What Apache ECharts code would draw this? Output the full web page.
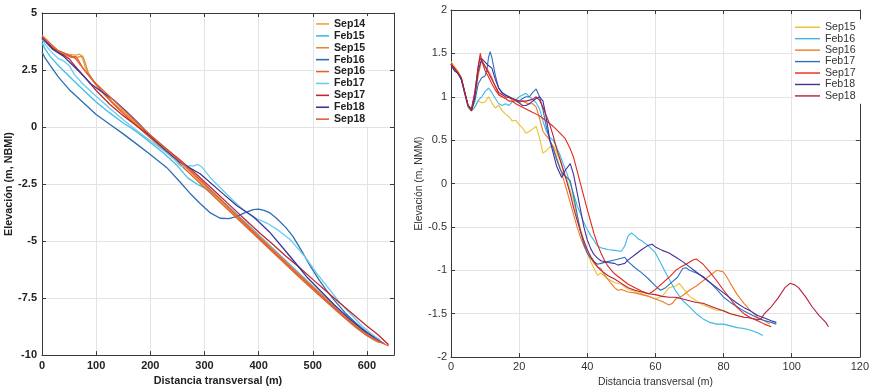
<!DOCTYPE html>
<html><head><meta charset="utf-8">
<script src="https://cdn.jsdelivr.net/npm/echarts@6/dist/echarts.min.js"></script>
<style>html,body{margin:0;padding:0;background:#fff}#c{width:872px;height:392px}</style>
</head><body><div id="c"></div>
<script>
// ---------- Left panel data (distance m, elevation m NBMI) ----------
const leftNames = ['Sep14','Feb15','Sep15','Feb16','Sep16','Feb17','Sep17','Feb18','Sep18'];
const leftColors = ['#EDA53A','#3FBFE6','#E08A3C','#2E6DB4','#E2622A','#6CCBEF','#C0282D','#34389A','#E0603A'];
const L_Sep14 = [[0,3.95],[10,3.75],[20,3.5],[35,3.25],[50,3.18],[62,3.15],[70,3.2],[75,3.0],[80,2.6],[90,2.2],[100,1.85],[115,1.45],[130,1.05],[150,0.6],[170,0.2],[190,-0.2],[210,-0.62],[230,-1.05],[250,-1.45],[270,-1.88],[290,-2.35],[310,-2.8],[330,-3.25],[350,-3.72],[370,-4.18],[390,-4.62],[410,-5.08],[430,-5.52],[450,-5.95],[470,-6.4],[490,-6.85],[510,-7.3],[530,-7.72],[550,-8.15],[570,-8.55],[590,-8.95],[610,-9.3],[622,-9.45]];
const L_Feb15 = [[0,3.7],[5,3.45],[15,3.1],[30,2.7],[45,2.35],[60,2.0],[80,1.55],[100,1.1],[125,0.62],[150,0.18],[162,0.0],[180,-0.3],[200,-0.68],[225,-1.15],[250,-1.7],[270,-2.25],[290,-2.55],[310,-2.8],[330,-3.18],[350,-3.6],[370,-4.05],[390,-4.5],[410,-4.95],[430,-5.4],[450,-5.85],[470,-6.3],[490,-6.75],[510,-7.2],[530,-7.65],[550,-8.1],[570,-8.5],[590,-8.92],[605,-9.2],[615,-9.35]];
const L_Sep15 = [[0,4.0],[10,3.8],[20,3.55],[30,3.35],[45,3.2],[55,3.1],[65,3.05],[75,3.12],[80,2.8],[85,2.4],[95,2.0],[110,1.6],[130,1.1],[150,0.68],[170,0.25],[190,-0.15],[210,-0.55],[230,-0.95],[250,-1.4],[270,-1.85],[290,-2.3],[310,-2.75],[330,-3.2],[350,-3.65],[370,-4.1],[390,-4.55],[410,-5.0],[430,-5.45],[450,-5.9],[470,-6.35],[490,-6.78],[510,-7.2],[530,-7.65],[550,-8.1],[570,-8.5],[590,-8.9],[610,-9.25],[625,-9.45]];
const L_Feb16 = [[0,3.3],[5,3.05],[15,2.7],[30,2.2],[50,1.65],[75,1.1],[100,0.55],[125,0.12],[150,-0.3],[175,-0.75],[200,-1.2],[230,-1.77],[255,-2.41],[275,-2.95],[292,-3.35],[310,-3.75],[329,-4.0],[345,-4.02],[360,-3.92],[375,-3.75],[390,-3.62],[400,-3.6],[410,-3.65],[420,-3.75],[433,-4.0],[450,-4.4],[463,-4.78],[480,-5.45],[495,-6.08],[510,-6.65],[525,-7.15],[540,-7.6],[560,-8.15],[580,-8.6],[600,-9.0],[615,-9.25]];
const L_Sep16 = [[0,3.9],[10,3.7],[20,3.45],[35,3.2],[45,3.15],[55,3.05],[62,3.1],[68,2.9],[75,2.6],[90,2.15],[105,1.7],[120,1.3],[140,0.82],[160,0.38],[180,-0.05],[200,-0.48],[220,-0.9],[240,-1.32],[260,-1.75],[280,-2.2],[300,-2.65],[320,-3.1],[340,-3.55],[360,-4.0],[380,-4.45],[400,-4.9],[420,-5.35],[440,-5.8],[460,-6.25],[480,-6.7],[500,-7.12],[520,-7.55],[540,-7.98],[560,-8.4],[580,-8.8],[600,-9.15],[620,-9.4],[632,-9.5]];
const L_Feb17 = [[0,3.85],[5,3.65],[15,3.35],[30,3.0],[40,2.9],[50,2.7],[60,2.3],[75,1.9],[100,1.35],[125,0.82],[150,0.32],[175,-0.15],[200,-0.6],[220,-0.95],[240,-1.3],[255,-1.7],[265,-1.75],[273,-1.69],[280,-1.7],[288,-1.64],[295,-1.75],[310,-2.2],[334,-2.77],[352,-3.2],[371,-3.62],[390,-3.95],[415,-4.21],[435,-4.5],[458,-4.93],[475,-5.4],[489,-5.79],[510,-6.5],[530,-7.1],[550,-7.7],[570,-8.2],[590,-8.7],[610,-9.1],[625,-9.35]];
const L_Sep17 = [[0,3.95],[10,3.7],[20,3.45],[30,3.28],[40,3.15],[50,3.0],[60,2.7],[75,2.3],[100,1.6],[125,1.0],[150,0.5],[175,0.05],[200,-0.4],[225,-0.88],[250,-1.35],[275,-1.85],[300,-2.4],[325,-2.95],[350,-3.5],[375,-4.05],[400,-4.6],[425,-5.12],[450,-5.65],[475,-6.15],[500,-6.68],[525,-7.2],[550,-7.72],[575,-8.22],[600,-8.72],[620,-9.1],[640,-9.55]];
const L_Feb18 = [[0,3.9],[10,3.65],[20,3.4],[39,3.12],[55,2.75],[70,2.4],[90,1.9],[110,1.55],[132,1.2],[155,0.7],[181,0.1],[200,-0.4],[230,-1.05],[255,-1.55],[292,-2.05],[334,-2.92],[360,-3.45],[390,-3.92],[420,-4.6],[452,-5.5],[467,-5.93],[490,-6.6],[515,-7.2],[540,-7.8],[565,-8.35],[590,-8.85],[615,-9.25],[632,-9.5]];
const L_Sep18 = [[0,4.0],[10,3.75],[20,3.55],[30,3.35],[45,3.2],[55,3.1],[62,3.0],[70,2.75],[85,2.3],[100,1.9],[120,1.45],[140,1.0],[160,0.55],[180,0.1],[200,-0.35],[220,-0.78],[240,-1.2],[260,-1.6],[280,-2.05],[300,-2.5],[320,-2.95],[340,-3.42],[360,-3.9],[380,-4.35],[400,-4.82],[420,-5.28],[440,-5.72],[460,-6.18],[480,-6.62],[500,-7.05],[520,-7.5],[540,-7.92],[560,-8.35],[580,-8.75],[600,-9.1],[620,-9.38],[640,-9.6]];
const leftData = [L_Sep14,L_Feb15,L_Sep15,L_Feb16,L_Sep16,L_Feb17,L_Sep17,L_Feb18,L_Sep18];

// ---------- Right panel data (distance m, elevation m NMM) ----------
const rightNames = ['Sep15','Feb16','Sep16','Feb17','Sep17','Feb18','Sep18'];
const rightColors = ['#EDC12A','#3CB8E4','#EE7A2A','#2F6FBE','#E3281C','#43309A','#B51F3A'];
const R_Sep15 = [[0,1.41],[1,1.35],[2,1.3],[3,1.22],[4,1.05],[5,0.88],[6,0.83],[7,0.88],[8,0.95],[9,0.93],[10,0.94],[11,1.0],[12,0.93],[13,0.87],[14,0.9],[15,0.84],[16,0.8],[17,0.77],[18,0.72],[19,0.73],[20,0.68],[21,0.64],[22,0.58],[23,0.6],[24,0.63],[25,0.66],[26,0.52],[27,0.35],[28,0.38],[29,0.42],[30,0.44],[31,0.36],[32,0.27],[33,0.15],[34,0.05],[35,-0.08],[36,-0.2],[37,-0.38],[38,-0.52],[39,-0.66],[40,-0.8],[41,-0.9],[42,-0.98],[43,-1.06],[44,-1.03],[46,-1.1],[48,-1.14],[50,-1.16],[52,-1.22],[54,-1.24],[56,-1.27],[58,-1.3],[60,-1.33],[62,-1.3],[64,-1.2],[66,-1.18],[67,-1.15],[68,-1.2],[70,-1.3],[72,-1.35],[74,-1.4],[76,-1.43],[78,-1.46],[80,-1.46],[82,-1.5],[84,-1.52],[86,-1.54]];
const R_Feb16 = [[0,1.38],[1,1.32],[2,1.27],[3,1.2],[4,1.03],[5,0.88],[6,0.84],[7,0.88],[8,0.96],[9,1.0],[10,1.06],[11,1.1],[11.5,1.12],[12,1.05],[13,0.98],[14,0.92],[15,0.9],[16,0.92],[17,0.9],[18,0.94],[19,0.96],[20,1.0],[21,1.02],[22,1.04],[23,1.0],[24,0.97],[25,0.93],[26,0.86],[27,0.72],[28,0.6],[29,0.53],[30,0.5],[31,0.42],[32,0.33],[33,0.22],[34,0.12],[35,0.0],[36,-0.12],[37,-0.25],[38,-0.35],[39,-0.45],[40,-0.53],[41,-0.6],[42,-0.66],[43,-0.72],[44,-0.74],[45,-0.75],[46,-0.76],[48,-0.77],[50,-0.78],[51,-0.72],[52,-0.6],[53,-0.57],[54,-0.6],[55,-0.64],[56,-0.66],[58,-0.72],[60,-0.8],[62,-0.95],[64,-1.1],[66,-1.24],[68,-1.35],[70,-1.42],[72,-1.5],[74,-1.56],[76,-1.6],[78,-1.62],[80,-1.62],[82,-1.64],[84,-1.66],[86,-1.67],[88,-1.69],[90,-1.72],[91.5,-1.75]];
const R_Sep16 = [[0,1.37],[1,1.33],[2,1.28],[3,1.22],[4,1.06],[5,0.9],[6,0.84],[7,1.0],[8,1.25],[9,1.42],[10,1.35],[11,1.3],[12,1.22],[13,1.12],[14,1.03],[15,1.0],[16,0.98],[17,1.0],[18,0.96],[19,0.95],[20,0.93],[21,0.95],[22,0.93],[23,0.92],[24,0.92],[25,0.88],[26,0.75],[27,0.6],[28,0.55],[29,0.5],[30,0.42],[31,0.3],[32,0.18],[33,0.05],[34,-0.08],[35,-0.22],[36,-0.36],[37,-0.5],[38,-0.62],[39,-0.72],[40,-0.8],[41,-0.86],[42,-0.92],[43,-0.96],[44,-0.98],[45,-1.05],[46,-1.1],[47,-1.15],[48,-1.2],[49,-1.23],[50,-1.22],[52,-1.25],[54,-1.26],[56,-1.28],[58,-1.3],[60,-1.33],[62,-1.36],[64,-1.4],[65,-1.38],[66,-1.33],[68,-1.29],[70,-1.23],[72,-1.18],[74,-1.12],[76,-1.06],[78,-1.0],[80,-1.02],[81,-1.08],[82,-1.15],[84,-1.28],[86,-1.38],[88,-1.47],[90,-1.54],[92,-1.58],[93.5,-1.62]];
const R_Feb17 = [[0,1.38],[1,1.32],[2,1.27],[3,1.21],[4,1.05],[5,0.9],[6,0.84],[7,0.95],[8,1.15],[9,1.22],[10,1.24],[10.5,1.3],[11,1.45],[11.5,1.52],[12,1.45],[13,1.25],[14,1.1],[15,1.04],[16,1.02],[17,1.0],[18,0.98],[19,0.96],[20,0.95],[21,0.98],[22,1.0],[23,1.0],[24,1.05],[25,1.09],[26,1.0],[27,0.85],[28,0.65],[29,0.5],[30,0.4],[31,0.28],[32,0.17],[33,0.1],[34,0.07],[35,0.03],[36,-0.15],[37,-0.35],[38,-0.55],[39,-0.7],[40,-0.8],[41,-0.86],[42,-0.9],[43,-0.93],[44,-0.92],[46,-0.9],[48,-0.88],[50,-0.86],[51,-0.85],[52,-0.9],[54,-0.97],[56,-1.03],[58,-1.1],[60,-1.18],[61.5,-1.23],[63,-1.2],[65,-1.13],[66.5,-1.08],[68,-0.98],[69,-0.97],[70,-1.0],[72,-1.03],[74,-1.07],[76,-1.14],[78,-1.22],[80,-1.31],[82,-1.37],[84,-1.42],[86,-1.47],[88,-1.51],[90,-1.55],[92,-1.58],[94,-1.6],[95.5,-1.62]];
const R_Sep17 = [[0,1.38],[1,1.33],[2,1.28],[3,1.22],[4,1.06],[5,0.9],[6,0.86],[7,1.05],[8,1.35],[8.6,1.5],[9,1.42],[10,1.3],[11,1.23],[12,1.15],[13,1.08],[14,1.02],[15,1.0],[16,0.98],[17,0.95],[18,0.95],[19,0.92],[20,0.9],[21,0.88],[22,0.86],[23,0.84],[24,0.82],[25,0.8],[26,0.78],[27,0.75],[28,0.72],[30,0.66],[32,0.58],[33.5,0.52],[35,0.4],[36,0.3],[37,0.15],[38,0.0],[39,-0.15],[40,-0.3],[41,-0.44],[42,-0.58],[43,-0.7],[44,-0.8],[45,-0.88],[46,-0.95],[48,-1.04],[50,-1.1],[52,-1.16],[54,-1.2],[56,-1.24],[58,-1.27],[59,-1.25],[60,-1.22],[62,-1.15],[64,-1.08],[66,-1.0],[67.5,-0.96],[69,-0.93],[71,-0.88],[72,-0.87],[73,-0.9],[74,-0.93],[76,-1.02],[78,-1.12],[80,-1.23],[82,-1.33],[84,-1.43],[86,-1.5],[88,-1.55],[90,-1.58],[92,-1.62],[94,-1.65]];
const R_Feb18 = [[0,1.36],[1,1.3],[2,1.27],[3,1.2],[4,1.05],[5,0.9],[6,0.84],[7,1.0],[8,1.3],[9,1.44],[10,1.4],[11,1.36],[12,1.33],[13,1.2],[14,1.1],[15,1.05],[16,1.02],[17,1.0],[18,0.98],[19,0.96],[20,0.93],[21,0.9],[22,0.9],[23,0.92],[24,0.95],[25,0.98],[26,1.0],[27,0.95],[28,0.75],[29,0.5],[30,0.35],[31,0.2],[32.5,0.07],[33.5,0.15],[35,0.23],[36,0.1],[37,-0.1],[38,-0.3],[39,-0.5],[40,-0.65],[41,-0.75],[42,-0.82],[43,-0.86],[44,-0.89],[46,-0.91],[48,-0.92],[49,-0.94],[50,-0.93],[51,-0.92],[52,-0.88],[54,-0.82],[56,-0.76],[58,-0.71],[59,-0.7],[60,-0.73],[62,-0.77],[64,-0.8],[66,-0.85],[68,-0.9],[70,-0.96],[72,-1.02],[74,-1.08],[76,-1.14],[78,-1.2],[80,-1.26],[82,-1.32],[84,-1.38],[86,-1.43],[88,-1.47],[90,-1.52],[92,-1.55],[94,-1.58],[95.5,-1.6]];
const R_Sep18 = [[0,1.38],[1,1.33],[2,1.28],[3,1.22],[4,1.06],[5,0.9],[6,0.85],[7,1.05],[8,1.35],[8.5,1.45],[10,1.35],[12,1.2],[14,1.05],[16,1.0],[18,0.98],[20,0.95],[22,0.95],[24,0.97],[25,1.0],[26,0.96],[27,0.88],[28,0.78],[29,0.68],[30,0.55],[31,0.4],[32,0.28],[33,0.15],[34,0.02],[35,-0.12],[36,-0.28],[37,-0.42],[38,-0.55],[39,-0.66],[40,-0.76],[41,-0.84],[42,-0.9],[43,-0.96],[44,-1.0],[46,-1.06],[48,-1.1],[50,-1.15],[52,-1.2],[54,-1.23],[56,-1.25],[58,-1.27],[60,-1.28],[62,-1.3],[64,-1.31],[66,-1.31],[68,-1.33],[70,-1.35],[72,-1.37],[74,-1.38],[76,-1.41],[78,-1.44],[80,-1.47],[82,-1.5],[84,-1.52],[86,-1.54],[88,-1.55],[90,-1.57],[91,-1.56],[92,-1.5],[94,-1.42],[96,-1.32],[98,-1.2],[99.5,-1.15],[101,-1.17],[102,-1.2],[104,-1.3],[106,-1.42],[108,-1.52],[110,-1.6],[110.8,-1.65]];
const rightData = [R_Sep15,R_Feb16,R_Sep16,R_Feb17,R_Sep17,R_Feb18,R_Sep18];

const FONT = 'Liberation Sans';
const gridLine = {show:true, lineStyle:{color:'#E3E3E3', width:1}};
function mainAxis(type, opts) {
  return Object.assign({
    type:'value',
    axisLine:{show:true, onZero:false, lineStyle:{color:'#3a3a3a', width:1}},
    axisTick:{show:true, inside:true, length:4, lineStyle:{color:'#3a3a3a'}},
    splitLine:gridLine,
    nameLocation:'middle'
  }, opts);
}
function mirrorAxis(opts) {
  return Object.assign({
    type:'value',
    axisLine:{show:true, onZero:false, lineStyle:{color:'#3a3a3a', width:1}},
    axisTick:{show:true, inside:true, length:4, lineStyle:{color:'#3a3a3a'}},
    axisLabel:{show:false}, splitLine:{show:false}
  }, opts);
}

const series = [];
leftData.forEach((d,i)=>series.push({
  name:leftNames[i], type:'line', xAxisIndex:0, yAxisIndex:0, data:d,
  symbol:'none', lineStyle:{color:leftColors[i], width:1.3}, itemStyle:{color:leftColors[i]}
}));
rightData.forEach((d,i)=>series.push({
  name:rightNames[i]+' ', type:'line', xAxisIndex:2, yAxisIndex:2, data:d,
  symbol:'none', lineStyle:{color:rightColors[i], width:1.1}, itemStyle:{color:rightColors[i]}
}));

const option = {
  animation:false,
  backgroundColor:'#fff',
  grid:[
    {left:42, right:478, top:13, bottom:31},
    {left:451, right:7, top:10, bottom:28}
  ],
  xAxis:[
    mainAxis('x',{gridIndex:0, min:0, max:650, interval:100,
      axisLabel:{fontFamily:FONT, fontSize:11, fontWeight:'bold', color:'#222', margin:5,
        formatter:v=> (v%100===0 ? String(v) : '')},
      name:'Distancia transversal (m)', nameGap:14,
      nameTextStyle:{fontFamily:FONT, fontSize:10.8, fontWeight:'bold', color:'#222'}}),
    mirrorAxis({gridIndex:0, position:'top', min:0, max:650, interval:100}),
    mainAxis('x',{gridIndex:1, min:0, max:120, interval:20,
      axisLabel:{fontFamily:FONT, fontSize:11, color:'#333', margin:4},
      name:'Distancia transversal (m)', nameGap:15,
      nameTextStyle:{fontFamily:FONT, fontSize:10.4, color:'#333'}}),
    mirrorAxis({gridIndex:1, position:'top', min:0, max:120, interval:20})
  ],
  yAxis:[
    mainAxis('y',{gridIndex:0, min:-10, max:5, interval:2.5,
      axisLabel:{fontFamily:FONT, fontSize:11, fontWeight:'bold', color:'#222', margin:5},
      name:'Elevación (m, NBMI)', nameGap:23,
      nameTextStyle:{fontFamily:FONT, fontSize:10.8, fontWeight:'bold', color:'#222'}}),
    mirrorAxis({gridIndex:0, position:'right', min:-10, max:5, interval:2.5}),
    mainAxis('y',{gridIndex:1, min:-2, max:2, interval:0.5,
      axisLabel:{fontFamily:FONT, fontSize:11, color:'#333', margin:4},
      name:'Elevación (m, NMM)', nameGap:21,
      nameTextStyle:{fontFamily:FONT, fontSize:10.4, color:'#333'}}),
    mirrorAxis({gridIndex:1, position:'right', min:-2, max:2, interval:0.5})
  ],
  legend:[
    {data:leftNames, orient:'vertical', left:314, top:16, padding:[2,3,2,2], itemGap:0,
     backgroundColor:'#fff', icon:'rect', itemWidth:13, itemHeight:1.6,
     textStyle:{fontFamily:FONT, fontSize:10.6, fontWeight:'bold', color:'#222', lineHeight:11.9}},
    {data:rightNames.map(n=>n+' '), orient:'vertical', left:793, top:19.5, padding:[2,4,2,2], itemGap:0,
     backgroundColor:'#fff', icon:'rect', itemWidth:25, itemHeight:1.4,
     textStyle:{fontFamily:FONT, fontSize:10.6, color:'#333', lineHeight:11.45}}
  ],
  series:series
};
const chart = echarts.init(document.getElementById('c'), null, {renderer:'canvas'});
chart.setOption(option);
</script></body></html>
